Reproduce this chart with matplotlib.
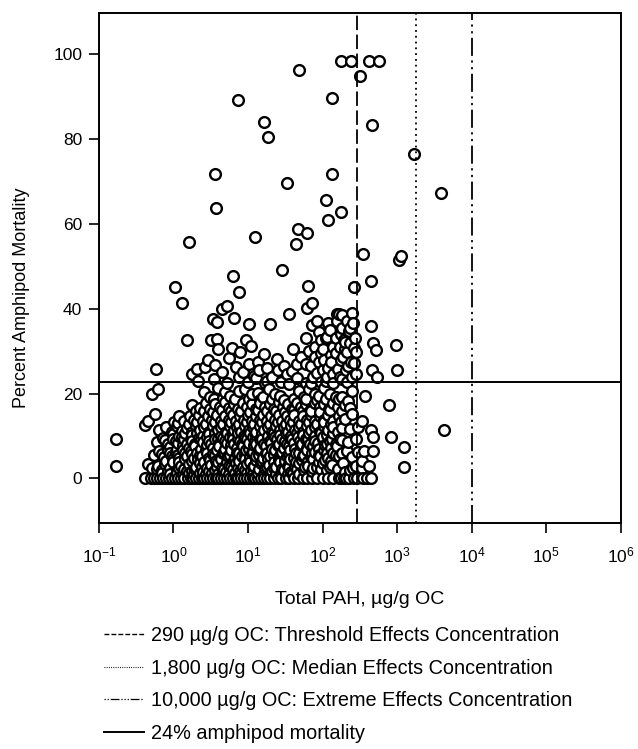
import matplotlib.pyplot as plt
from matplotlib.lines import Line2D

plt.rcParams["font.family"] = ["Liberation Sans", "DejaVu Sans"]
plt.rcParams["mathtext.default"] = "regular"

# sediment points: (total PAH ug/g OC, percent amphipod mortality)
upper_pts = [
    (49, 96.3), (7.3, 89.2), (16.3, 84.0), (18.4, 80.4), (132, 89.7),
    (175, 98.3), (239, 98.3), (421, 98.3), (574, 98.3), (318, 94.7),
    (458, 83.2), (1660, 76.5), (3.64, 71.6), (3.7, 63.7), (32.9, 69.6),
    (132, 71.6), (112, 65.5), (175, 62.7), (119, 60.8), (47, 58.8),
    (62, 57.8), (12.6, 56.8), (1.63, 55.7), (44, 55.3), (3880, 67.2),
    (350, 52.8), (1125, 52.5), (1067, 51.5), (444, 46.5), (265, 45.2),
    (28.2, 49.0), (6.2, 47.8), (7.5, 43.9), (1.05, 45.0), (1.29, 41.3),
    (64, 45.4), (62, 40.2), (73, 41.3), (4.47, 40.0), (5.2, 40.7),
]

mid_pts = [
    (3.35, 37.6), (3.83, 36.8), (6.4, 37.8), (10.4, 36.4), (20, 36.4),
    (35.3, 38.8), (158, 38.8), (158, 37.0), (73, 36.2), (85, 37.2),
    (166, 38.8), (226, 34.8), (444, 35.8), (250, 39), (260, 36.5),
    (7.9, 29.7), (11.1, 31.3), (6.1, 30.8), (39.8, 30.5), (279, 29.7),
    (519, 30.3), (468, 31.8), (964, 31.5), (110, 33.1), (150, 33.1),
    (201, 32.1), (116, 33.3), (194, 32.5), (1.51, 32.6), (3.23, 32.6),
    (3.83, 32.9), (80, 31), (95, 29.5), (65, 30), (90, 34.5), (100, 30.5),
    (130, 29), (170, 31), (180, 35.5), (210, 29.8), (240, 27.5), (125, 35),
    (190, 28.5), (60, 33), (230, 32), (4, 30.5), (9.5, 32.5),
    (0.58, 25.8), (2.06, 25.8), (2.61, 26.2), (3.64, 26.7), (6.8, 26.2),
    (10.2, 27), (39, 25.4), (265, 27.1), (175, 27.8), (204, 25.6),
    (458, 25.6), (1012, 25.6), (24.5, 28.2), (52, 28.5), (16.3, 29.2),
    (70, 26.5), (90, 27.5), (120, 26), (14, 25.6), (30, 26.4), (100, 25.5),
    (140, 24.5), (1.8, 24.5), (2.9, 28), (4.5, 25), (5.5, 28.4), (8.5, 25),
    (12, 24.2), (13.5, 27.5), (18, 26),
    (70, 22.5), (85, 24.8), (110, 23), (130, 27.5), (160, 25.8),
    (185, 23.5), (220, 26.5), (245, 24), (150, 29.5), (200, 30.5),
    (80, 28.5), (105, 28), (60, 27), (45, 27), (33, 24.5), (25, 25.5),
    (18, 23), (270, 33), (235, 35.5), (140, 31), (175, 34), (95, 32.5),
    (210, 37), (185, 38.5), (265, 30.8), (120, 36.5),
    (2.12, 23), (3.45, 23.4), (7.5, 23.8), (17.1, 22.6), (21, 23.8),
    (5.2, 22.4), (10, 22.8), (13, 23.6), (28, 22.8), (45, 23.6), (60, 22.4),
    (75, 24), (95, 22.8), (115, 23.8), (140, 22.6), (170, 24), (210, 22.8),
    (279, 24.6), (545, 23.8),
    (0.52, 19.9), (0.615, 21.1), (3.12, 19.1), (4.97, 20.3), (7.5, 20.7),
    (11.3, 19.9), (2.6, 20.4), (3.9, 21.2), (5.8, 19.4), (9, 21),
    (13.5, 20.2), (16, 19.2), (19, 21), (23, 20), (27, 19.4), (35, 22.3),
    (48, 20.7), (56, 19.2), (66, 21), (78, 20), (90, 19.4), (105, 21.2),
    (125, 20), (150, 19.2), (184, 19.1), (251, 20.7), (372, 19.5),
    (783, 17.4), (826, 9.7), (1245, 7.3), (1245, 2.6), (4300, 11.3),
]

low_pts = [
    (1.8, 17.3), (2.3, 16.6), (2.7, 17.8), (3.1, 16.4), (3.6, 17.6),
    (4.2, 16.8), (4.9, 18), (5.6, 16.6), (6.4, 17.6), (7.4, 16.4),
    (8.5, 17.8), (9.7, 16.8), (11.2, 17.6), (12.8, 16.4), (14.7, 17.8),
    (17, 16.8), (19.5, 17.6), (22.4, 16.4), (25.9, 17.9), (29.5, 16.8),
    (34, 17.6), (39, 16.4), (45, 17.8), (52, 16.8), (60, 17.6), (69, 16.4),
    (80, 17.8), (92, 16.8), (106, 17.6), (122, 16.4), (140, 17.8),
    (162, 16.8), (200, 17.4),
    (3.5, 18.6), (4.6, 19), (6.6, 18.6), (10.2, 18.8), (14.6, 18.4),
    (21, 18.8), (30, 18.4), (41, 18.8), (60, 18.6), (85, 18.4), (110, 18.8),
    (165, 18.6), (220, 18.2),
    (2.0, 15.8), (2.6, 16), (3.4, 15.6), (4.5, 16.2), (6, 15.8), (8, 16),
    (10.5, 15.6), (13.8, 16.2), (18, 15.8), (24, 16), (31, 15.6),
    (41, 16.2), (54, 15.8), (71, 16), (93, 15.6), (125, 16.2), (180, 15.8),
    (230, 16.5),
    (0.565, 15.2), (0.46, 13.6), (0.42, 12.6), (1.03, 13.4), (1.2, 14.6),
    (1.4, 13.6), (1.65, 14.8), (1.9, 13.8), (2.2, 15), (2.5, 13.6),
    (2.9, 14.6), (3.3, 13.8), (3.8, 15), (4.3, 13.6), (4.9, 14.8),
    (5.5, 13.8), (6.2, 15), (7, 13.6), (7.9, 14.6), (8.9, 13.8), (10, 15),
    (11.3, 13.6), (12.7, 14.8), (14.3, 13.8), (16, 15), (18, 13.6),
    (20.3, 14.8), (23, 13.8), (26, 15), (29, 13.6), (33, 14.8), (37, 13.8),
    (42, 15), (48, 13.6), (54, 14.8), (61, 13.8), (70, 15), (80, 13.6),
    (92, 14.8), (105, 13.8), (120, 15), (140, 13.6), (165, 14.6), (200, 14),
    (251, 15.2), (342, 13.6),
    (1.15, 13), (1.6, 12.8), (2.05, 13.2), (2.75, 12.8), (3.6, 13.2),
    (4.6, 12.8), (5.9, 13.2), (7.6, 12.8), (9.6, 13.2), (12.2, 12.8),
    (15.6, 13.2), (19.8, 12.8), (25, 13.2), (32, 12.8), (40, 13.2),
    (51, 12.8), (65, 13.2), (83, 12.8), (105, 13.2), (130, 12.8),
    (175, 13.2),
    (0.17, 9.4), (0.17, 3.0),
    (0.65, 11.5), (0.8, 12.2), (0.95, 11), (1.1, 12.4), (1.3, 11.2),
    (1.5, 12), (1.75, 11), (2.0, 12.4), (2.3, 11.4), (2.6, 12.2), (3.0, 11),
    (3.4, 12.4), (3.9, 11.4), (4.4, 12.2), (5.0, 11), (5.7, 12.4),
    (6.4, 11.4), (7.2, 12.2), (8.1, 11), (9.1, 12.4), (10.3, 11.4),
    (11.6, 12.2), (13, 11), (14.7, 12.4), (16.5, 11.4), (18.6, 12.2),
    (21, 11), (23.6, 12.4), (26.5, 11.4), (30, 12.2), (34, 11), (38, 12.4),
    (43, 11.4), (49, 12.2), (55, 11), (62, 12.4), (70, 11.4), (80, 12.2),
    (91, 11), (104, 12.4), (120, 11.4), (140, 12.2), (160, 11), (184, 12),
    (230, 11.6), (300, 12.2), (444, 11.3),
    (1.0, 10.4), (1.2, 10), (1.45, 10.6), (1.75, 10.2), (2.1, 10.6),
    (2.5, 10), (3.0, 10.4), (3.6, 10.8), (4.3, 10), (5.2, 10.6), (6.2, 10.2),
    (7.4, 10.8), (8.9, 10), (10.7, 10.6), (12.8, 10.2), (15.4, 10.8),
    (18.5, 10), (22, 10.6), (26.5, 10.2), (32, 10.8), (38, 10), (46, 10.6),
    (55, 10.2), (66, 10.8), (80, 10), (96, 10.6), (115, 10.2), (138, 10.8),
    (0.78, 9), (1.08, 8.8), (1.4, 9.2), (1.8, 8.8), (2.35, 9.2), (3.0, 8.8),
    (3.9, 9.2), (4.9, 8.8), (6.2, 9.2), (7.8, 8.8), (9.8, 9.2), (12.3, 8.8),
    (15.5, 9.2), (19.5, 8.8), (24.5, 9.2), (31, 8.8), (39, 9.2), (50, 8.8),
    (63, 9.2), (80, 8.8), (100, 9.2), (125, 8.8), (170, 9.2),
    (0.6, 8.5), (0.72, 9.5), (0.85, 8), (1.0, 9.2), (1.15, 8.4), (1.3, 9.8),
    (1.5, 8.2), (1.7, 9.4), (1.95, 8), (2.2, 9.6), (2.5, 8.6), (2.8, 9.8),
    (3.2, 8.2), (3.6, 9.2), (4.1, 8), (4.6, 9.6), (5.2, 8.4), (5.8, 9.8),
    (6.5, 8.2), (7.3, 9.4), (8.2, 8), (9.2, 9.6), (10.3, 8.4), (11.5, 9.8),
    (13, 8.2), (14.6, 9.4), (16.4, 8), (18.4, 9.6), (20.6, 8.4), (23, 9.8),
    (26, 8.2), (29, 9.4), (33, 8), (37, 9.6), (42, 8.4), (47, 9.8),
    (53, 8.2), (60, 9.4), (68, 8), (77, 9.6), (88, 8.4), (100, 9.8),
    (115, 8.2), (132, 9.4), (150, 8), (184, 9), (220, 8.6), (280, 9.4),
    (468, 9.7),
    (0.9, 7.4), (1.1, 7), (1.35, 7.8), (1.62, 7.2), (1.95, 7.6), (2.35, 7),
    (2.85, 7.8), (3.4, 7.2), (4.1, 7.6), (4.9, 7), (5.9, 7.8), (7.1, 7.2),
    (8.5, 7.6), (10.2, 7), (12.2, 7.8), (14.7, 7.2), (17.6, 7.6), (21, 7),
    (25, 7.8), (30, 7.2), (36, 7.6), (43, 7), (52, 7.8), (62, 7.2),
    (75, 7.6), (90, 7), (108, 7.8), (130, 7.2), (155, 7.6),
    (0.7, 5.8), (0.9, 6), (1.15, 5.6), (1.42, 6), (1.8, 5.8), (2.25, 5.6),
    (2.85, 6), (3.6, 5.6), (4.55, 6), (5.7, 5.6), (7.2, 6), (9, 5.6),
    (11.3, 6), (14, 5.6), (17.5, 6), (22, 5.6), (27.5, 6), (35, 5.6),
    (44, 6), (56, 5.6), (72, 6), (90, 5.6), (115, 6), (150, 5.6),
    (0.55, 5.5), (0.65, 6.5), (0.75, 5), (0.85, 6.8), (0.95, 5.2),
    (1.08, 6.2), (1.2, 4.8), (1.35, 6.6), (1.5, 5.4), (1.7, 6.4), (1.9, 4.9),
    (2.1, 6), (2.4, 5.2), (2.7, 6.8), (3.0, 4.8), (3.4, 5.8), (3.8, 6.8),
    (4.3, 5), (4.8, 6.2), (5.4, 5.4), (6.0, 6.6), (6.7, 4.8), (7.5, 6),
    (8.3, 5.2), (9.3, 6.8), (10.5, 5), (11.7, 6.2), (13, 5.4), (14.5, 6.6),
    (16, 4.8), (18, 6), (20, 5.2), (23, 6.8), (26, 5), (29, 6.2), (33, 5.4),
    (37, 6.6), (42, 4.8), (48, 6), (55, 5.2), (62, 6.8), (70, 5), (80, 6.2),
    (92, 5.4), (105, 6.6), (120, 4.8), (140, 6), (165, 5.2), (184, 6),
    (210, 6.4), (250, 5), (300, 6.2), (361, 6.5), (468, 6.5),
    (0.8, 4.2), (0.98, 4.6), (1.2, 3.9), (1.45, 4.5), (1.8, 4), (2.15, 4.6),
    (2.6, 3.8), (3.1, 4.4), (3.7, 4), (4.4, 4.6), (5.3, 3.9), (6.4, 4.4),
    (7.6, 4), (9, 4.6), (10.8, 3.8), (12.9, 4.4), (15.4, 4), (18.4, 4.6),
    (22, 3.9), (26, 4.4), (31, 4), (37, 4.6), (44, 3.8), (53, 4.4), (63, 4),
    (75, 4.6), (90, 3.8), (108, 4.4), (130, 4), (342, 4.2),
    (0.45, 3.5), (0.52, 2.5), (0.62, 3), (0.7, 2), (0.78, 3.5), (0.9, 2.5),
    (1.0, 3.8), (1.1, 2), (1.25, 3), (1.4, 2.2), (1.6, 3.5), (1.75, 1.8),
    (2.0, 2.8), (2.3, 3.6), (2.5, 1.5), (2.8, 2.5), (3.2, 3.2), (3.6, 2),
    (4.0, 3.8), (4.5, 2.4), (5.0, 1.6), (5.6, 3), (6.3, 2.2), (7.0, 3.6),
    (7.8, 1.8), (8.7, 2.8), (9.8, 3.5), (11, 2), (12, 3), (13.5, 1.6),
    (15, 3.6), (17, 2.4), (19, 3.2), (21, 1.8), (24, 2.8), (27, 3.8),
    (30, 2), (34, 3), (38, 1.6), (43, 2.6), (49, 3.6), (56, 2), (64, 3),
    (73, 1.8), (85, 2.8), (100, 3.6), (115, 2), (135, 3.2), (160, 2.2),
    (190, 3.6), (230, 2), (280, 3), (340, 2.5), (420, 3),
    (0.6, 2.2), (0.85, 1.8), (1.18, 2.4), (1.5, 1.8), (1.95, 2.2),
    (2.45, 2.6), (3.0, 1.8), (3.8, 2.6), (4.8, 2.2), (6, 2.8), (7.4, 2.4),
    (9.2, 2), (11.5, 2.6), (14.2, 2.2), (18, 2.8), (22.5, 2.4), (28.5, 2.2),
    (36, 2.6), (46, 2.2), (58, 2.6), (75, 2.4), (95, 2.2), (125, 2.6),
    (200, 1.6), (260, 2.4),
    (0.7, 1.2), (0.9, 1), (1.1, 1.4), (1.35, 1), (1.6, 1.4), (1.9, 1.1),
    (2.3, 1.4), (2.75, 1), (3.3, 1.3), (3.9, 1), (4.7, 1.4), (5.6, 1),
    (6.7, 1.3), (8, 1), (9.6, 1.4), (11.5, 1), (13.8, 1.3), (16.5, 1),
    (19.7, 1.4), (23.6, 1), (28, 1.3), (34, 1), (40, 1.4), (48, 1),
]

# samples with no mortality
zero_pah = [
    0.42, 0.5, 0.55, 0.6, 0.66, 0.72, 0.8, 0.88, 0.95, 1.05, 1.15, 1.25,
    1.4, 1.55, 1.7, 1.85, 2.0, 2.2, 2.4, 2.6, 2.85, 3.1, 3.4, 3.7, 4.0, 4.4,
    4.8, 5.2, 5.7, 6.2, 6.8, 7.4, 8.1, 8.8, 9.6, 10.5, 11.5, 12.5, 13.7, 15,
    16.5, 18, 20, 22, 25, 28, 32, 36, 41, 47, 54, 62, 72, 85, 100, 118, 140,
    165, 175, 195, 204, 225, 265, 293, 350, 400, 450,
]

guide_x = [290, 1800, 10000]
guide_styles = [(0, (8, 2.5)), (0, (1, 2.2)), (0, (10, 2.5, 1.2, 2.5, 1.2, 2.5))]
mortality_line = 22.7

legend_labels = [
    "290 \u00b5g/g OC: Threshold Effects Concentration",
    "1,800 \u00b5g/g OC: Median Effects Concentration",
    "10,000 \u00b5g/g OC: Extreme Effects Concentration",
    "24% amphipod mortality",
]

pts = upper_pts + mid_pts + low_pts + [(x, 0) for x in zero_pah]
pts.sort(key=lambda p: p[0])
xs = [p[0] for p in pts]
ys = [p[1] for p in pts]

fig = plt.figure(figsize=(6.38, 7.49), dpi=100)
ax = fig.add_axes([0.155, 0.3017, 0.818, 0.6813])

ax.scatter(xs, ys, s=60, facecolor="white", edgecolor="black",
           linewidth=1.7, zorder=2)

handles = []
for gx, ls in zip(guide_x, guide_styles):
    ax.axvline(gx, color="black", linestyle=ls, linewidth=1.3, zorder=3)
handles.append(Line2D([], [], color="black", linestyle=(0, (3.5, 1.5)),
                      linewidth=1.0))
handles.append(Line2D([], [], color="black", linestyle=(0, (0.8, 1.2)),
                      linewidth=0.8))
handles.append(Line2D([], [], color="black",
                      linestyle=(0, (1, 1.5, 1, 1.5, 7, 1.5, 1, 1.5)),
                      linewidth=0.9))
ax.axhline(mortality_line, color="black", linewidth=1.4, zorder=3)
handles.append(Line2D([], [], color="black", linewidth=1.4))

ax.set_xscale("log")
ax.set_xlim(0.1, 1e6)
ax.set_ylim(-10.5, 109.7)
ax.set_xticks([10.0 ** k for k in range(-1, 7)])
ax.minorticks_off()
ax.set_yticks([0, 20, 40, 60, 80, 100])
ax.tick_params(direction="out", length=7, width=1.2, labelsize=12.5,
               pad=5)
ax.tick_params(axis="x", pad=9)
for spine in ax.spines.values():
    spine.set_linewidth(1.4)

fig.text(22 / 638, 1 - 298 / 749, "Percent Amphipod Mortality",
         rotation=90, ha="center", va="center", fontsize=13)
fig.text(360 / 638, 1 - 600 / 749, "Total PAH, \u00b5g/g OC",
         ha="center", va="center", fontsize=14)

fig.legend(handles, legend_labels, loc="upper left",
           bbox_to_anchor=(96 / 638, 1 - 618 / 749), frameon=False,
           fontsize=14.3, handlelength=2.0, handletextpad=0.36,
           labelspacing=0.69, borderaxespad=0)

fig.savefig("out.png", dpi=100, facecolor="white")
